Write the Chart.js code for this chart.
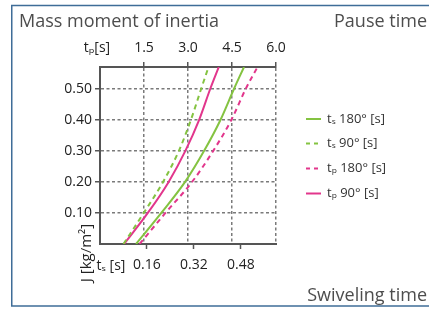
<!DOCTYPE html>
<html>
<head>
<meta charset="utf-8">
<script src="https://cdn.jsdelivr.net/npm/chart.js@4/dist/chart.umd.min.js"></script>
<style>
  html, body { margin: 0; padding: 0; background: #ffffff; }
  canvas { display: block; }
</style>
</head>
<body>
<canvas id="c" width="429" height="309"></canvas>
<script>
// ---- data ----
const J = [0, 0.1, 0.2, 0.3, 0.4, 0.5, 0.57];          // mass moment of inertia [kg/m²]
const ts180 = [0.123, 0.209, 0.290, 0.355, 0.411, 0.457, 0.491]; // swiveling time 180° [s]
const ts90  = [0.080, 0.149, 0.215, 0.269, 0.310, 0.345, 0.370]; // swiveling time 90° [s]
const tp180 = [1.35, 2.23, 3.14, 3.86, 4.48, 4.97, 5.37];        // pause time 180° [s]
const tp90  = [0.82, 1.63, 2.34, 2.91, 3.38, 3.76, 4.05];        // pause time 90° [s]
const seriesLabels = ['tₛ 180° [s]', 'tₛ 90° [s]', 'tₚ 180° [s]', 'tₚ 90° [s]'];
const yTicks  = [0.1, 0.2, 0.3, 0.4, 0.5];
const tsTicks = [0.16, 0.32, 0.48];
const tpTicks = [1.5, 3.0, 4.5, 6.0];

const GREEN = '#84c341';
const PINK = '#e2368c';
const FONT = "'Open Sans', 'Noto Sans', sans-serif";

const pts = (xs) => xs.map((x, i) => ({ x: x, y: J[i] }));

const datasets = [
  { label: seriesLabels[0], data: pts(ts180), xAxisID: 'x',  borderColor: GREEN, borderDash: [] },
  { label: seriesLabels[1], data: pts(ts90),  xAxisID: 'x',  borderColor: GREEN, borderDash: [5, 4] },
  { label: seriesLabels[2], data: pts(tp180), xAxisID: 'x2', borderColor: PINK,  borderDash: [5, 4] },
  { label: seriesLabels[3], data: pts(tp90),  xAxisID: 'x2', borderColor: PINK,  borderDash: [] }
].map(d => Object.assign(d, { borderWidth: 2, pointRadius: 0, fill: false, cubicInterpolationMode: 'monotone' }));

const overlay = {
  id: 'overlay',
  beforeDraw(chart) {
    const ctx = chart.ctx;
    ctx.save();
    ctx.fillStyle = '#ffffff';
    ctx.fillRect(0, 0, chart.width, chart.height);
    ctx.strokeStyle = '#3f6d98';
    ctx.lineWidth = 1.5;
    ctx.beginPath();
    ctx.moveTo(429, 5.5); ctx.lineTo(11.75, 5.5); ctx.lineTo(11.75, 306); ctx.lineTo(429, 306);
    ctx.stroke();
    ctx.restore();
  },
  afterDraw(chart) {
    const ctx = chart.ctx;
    ctx.save();
    ctx.textBaseline = 'middle';
    ctx.fillStyle = '#4d4d4d';
    ctx.font = '18px ' + FONT;
    ctx.textAlign = 'left';
    ctx.fillText('Mass moment of inertia', 19, 22);
    ctx.textAlign = 'right';
    ctx.fillText('Pause time', 427, 22);
    ctx.fillText('Swiveling time', 427, 296);

    ctx.fillStyle = '#222';
    ctx.font = '14px ' + FONT;
    ctx.textAlign = 'center';
    ctx.fillText('tₚ[s]', 97, 48);
    ctx.fillText('tₛ [s]', 111, 266);

    ctx.save();
    ctx.translate(87, 253);
    ctx.rotate(-Math.PI / 2);
    ctx.font = '15px ' + FONT;
    ctx.fillText('J [kg/m²]', 0, 0);
    ctx.restore();

    // legend
    const ys = [119, 143.5, 168.5, 193.5];
    chart.data.datasets.forEach((ds, i) => {
      ctx.strokeStyle = ds.borderColor;
      ctx.lineWidth = 2;
      ctx.setLineDash(ds.borderDash.length ? [4, 4] : []);
      ctx.beginPath();
      ctx.moveTo(306, ys[i]); ctx.lineTo(321, ys[i]);
      ctx.stroke();
      ctx.setLineDash([]);
      ctx.fillStyle = '#333';
      ctx.font = '13px ' + FONT;
      ctx.textAlign = 'left';
      ctx.fillText(ds.label, 327, ys[i]);
    });
    ctx.restore();
  }
};

const gridDash = { color: '#7a7a7a', lineWidth: 1.5, tickColor: '#555', tickWidth: 1.5, tickLength: 5 };
const axisBorder = { display: true, color: '#555', width: 2, dash: [3, 2.5] };
const tickFont = { family: FONT, size: 14 };

new Chart(document.getElementById('c'), {
  type: 'line',
  data: { datasets: datasets },
  options: {
    responsive: false,
    devicePixelRatio: 1,
    animation: false,
    layout: { padding: { left: 0, right: 153, top: 0, bottom: 0 } },
    plugins: { legend: { display: false }, tooltip: { enabled: false } },
    scales: {
      x: {
        type: 'linear', position: 'bottom', min: 0, max: 0.6,
        afterBuildTicks: s => { s.ticks = tsTicks.map(v => ({ value: v })); },
        afterFit: s => { s.height = 65; },
        ticks: { color: '#222', font: tickFont, padding: 8, maxRotation: 0, callback: v => v.toFixed(2) },
        grid: { drawOnChartArea: false, drawTicks: true, tickLength: 5, tickColor: '#555', tickWidth: 1.5 },
        border: { display: true, color: '#555', width: 2 }
      },
      x2: {
        type: 'linear', position: 'top', min: 0, max: 6,
        afterBuildTicks: s => { s.ticks = tpTicks.map(v => ({ value: v })); },
        afterFit: s => { s.height = 67; },
        ticks: { color: '#222', font: tickFont, padding: 6, maxRotation: 0, callback: v => v.toFixed(1) },
        grid: gridDash,
        border: axisBorder
      },
      y: {
        type: 'linear', min: 0, max: 0.57,
        afterBuildTicks: s => { s.ticks = yTicks.map(v => ({ value: v })); },
        afterFit: s => { s.width = 100; },
        ticks: { color: '#222', font: tickFont, padding: 3, callback: v => v.toFixed(2) },
        grid: gridDash,
        border: axisBorder
      }
    }
  },
  plugins: [overlay]
});
</script>
</body>
</html>
